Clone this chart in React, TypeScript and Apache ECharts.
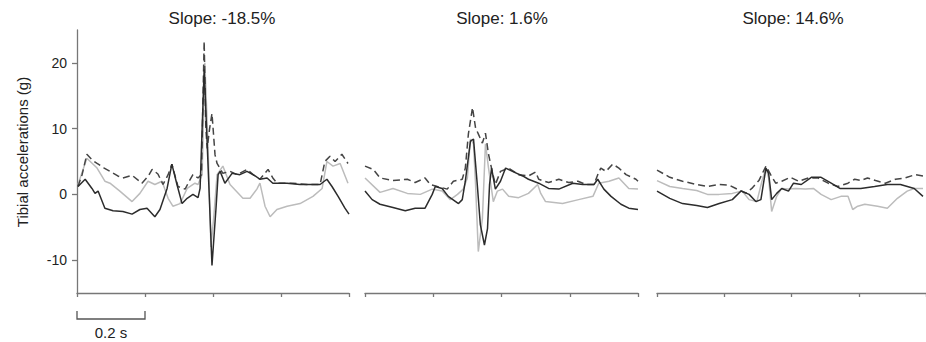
import React, { useEffect, useRef } from "react";
import * as echarts from "echarts";

// time in ms, acceleration in g
const PANEL_TITLES = ["Slope: -18.5%", "Slope: 1.6%", "Slope: 14.6%"];
const Y_TICKS = [-10, 0, 10, 20];
const SCALE_BAR_MS = 200;
const SCALE_BAR_LABEL = "0.2 s";
const Y_NAME = "Tibial accelerations (g)";

const P1_GRAY: [number, number][] = [
  [3, 1.5], [29, 5.5], [59, 4.0], [82, 2.0], [97, 1.7], [126, 0.5], [162, -1.1], [185, 0.15], [209, 2.0],
  [229, 1.5], [250, 2.0], [268, -0.6], [282, -1.8], [303, -1.4], [324, 0.9], [347, 1.7], [356, 1.5],
  [368, 3], [376, 20], [385, 8], [394, -8], [403, -3], [412, 3], [429, 4.3], [450, 1.5], [488, -0.6],
  [509, -0.6], [529, 0.8], [538, 1.7], [553, -1.8], [568, -3.4], [588, -2.3], [618, -1.8], [656, -1.4],
  [694, -0.3], [721, 0.9], [735, 5.0], [753, 4.3], [774, 4.7], [797, 1.7],
];
const P1_DASH: [number, number][] = [
  [3, 1.2], [15, 3], [29, 6.1], [45, 5.2], [59, 4.7], [80, 4.0], [97, 3.5], [120, 2.8], [135, 2.5],
  [162, 2.9], [191, 1.7], [210, 2.8], [221, 3.8], [238, 3.1], [253, 1.5], [268, 3], [279, 4.6],
  [297, 1.2], [318, 0.8], [330, 2.0], [341, 3.0], [356, 2.5], [366, 3], [374, 23.3], [379, 10],
  [383, 7], [390, 10], [397, 12.3], [406, 6], [412, 4.7], [429, 3.2], [450, 3.5], [471, 3.0],
  [500, 3.8], [518, 3.0], [538, 2.3], [562, 3.8], [576, 2.5], [588, 1.7], [635, 1.7], [676, 1.5],
  [715, 1.5], [729, 5.0], [744, 5.8], [759, 5.0], [779, 6.1], [797, 4.7],
];
const P1_SOLID: [number, number][] = [
  [3, 1.2], [24, 2.3], [44, 0.9], [53, 0.15], [62, 0.5], [82, -2.1], [106, -2.5], [135, -2.6],
  [162, -3.0], [185, -2.3], [206, -2.1], [229, -3.4], [244, -2.3], [265, 0.9], [279, 4.6], [294, 1.5],
  [309, -1.4], [324, -0.6], [341, 0], [356, -0.5], [362, 0.9], [374, 19], [385, 5], [397, -10.8],
  [409, -2], [415, 3], [421, 3.5], [435, 1.7], [456, 3.2], [479, 3.0], [500, 3.5], [524, 2.8],
  [538, 2.3], [559, 2.5], [576, 1.7], [618, 1.7], [656, 1.5], [715, 1.5], [735, 2.3], [750, 1.2],
  [768, -0.3], [788, -2.1], [800, -3.0],
];

const P2_GRAY: [number, number][] = [
  [0, 2.5], [44, 0.3], [82, 0.9], [124, 0.15], [162, 0], [197, 0.8], [226, 0.5], [250, -0.8], [271, 0],
  [288, 0.8], [300, 2.5], [309, 8.4], [318, 7.7], [324, 1.5], [332, -8.7], [344, -3.7], [353, 7.7],
  [362, 4.0], [376, -1.1], [388, 0.5], [403, 0.8], [421, -0.3], [450, -0.5], [479, 0.15], [506, 1.5],
  [515, 0.15], [529, -1.1], [579, -1.4], [626, -0.8], [668, -0.3], [685, 1.7], [715, 2.0], [744, 2.5],
  [773, 0.9], [800, 0.8],
];
const P2_DASH: [number, number][] = [
  [0, 4.3], [24, 3.8], [44, 2.5], [82, 2.1], [124, 2.3], [147, 1.8], [176, 2.5], [191, 1.5], [212, 1.2],
  [241, 0.8], [259, 2.0], [285, 2.3], [294, 4.0], [303, 9.2], [315, 13.2], [324, 10.1], [332, 9.2],
  [344, 7.8], [353, 9.3], [362, 6.1], [374, 3.2], [382, 1.5], [397, 3.5], [421, 4.0], [450, 3.0],
  [479, 2.8], [500, 3.4], [509, 2.3], [538, 1.8], [568, 2.3], [597, 1.8], [624, 2.0], [647, 1.5],
  [671, 1.5], [682, 3.0], [691, 4.0], [706, 3.5], [726, 4.6], [744, 4.0], [765, 3.0], [794, 2.3],
  [800, 2.0],
];
const P2_SOLID: [number, number][] = [
  [0, 0.5], [21, -0.8], [44, -1.5], [82, -2.0], [118, -2.5], [147, -2.1], [176, -2.1], [197, 0],
  [206, 1.2], [226, 0.9], [244, -0.3], [274, -1.4], [285, -0.8], [294, 2.0], [309, 8.1], [318, 8.4],
  [329, 1.5], [338, -4.6], [350, -7.7], [359, -5.2], [365, 1.5], [371, 4.0], [376, 2.5], [382, 0.8],
  [397, 2.0], [412, 4.0], [432, 3.5], [462, 2.8], [479, 2.3], [509, 1.7], [538, 0.9], [568, 0.8],
  [609, 1.7], [638, 1.5], [671, 1.5], [682, 2.3], [700, 0.8], [721, -0.3], [750, -1.5], [773, -2.1],
  [800, -2.3],
];

const P3_GRAY: [number, number][] = [
  [0, 2.1], [38, 1.2], [76, 0.9], [118, 0.6], [150, 0], [185, 0], [224, 0.15], [253, 0.5], [274, -0.8],
  [297, -1.1], [312, 2.0], [324, 4.0], [332, 2.5], [341, -2.6], [356, -0.3], [371, 0.9], [391, 0.8],
  [412, 0.9], [441, 0.8], [465, 0.9], [488, 0], [518, -0.8], [547, -0.3], [568, -0.3], [582, -2.3],
  [597, -1.8], [618, -1.5], [656, -1.8], [685, -2.1], [715, -0.6], [744, 0.5], [765, 0.9], [791, 0.9],
];
const P3_DASH: [number, number][] = [
  [0, 3.7], [38, 2.6], [76, 2.0], [118, 1.5], [150, 1.2], [185, 1.5], [215, 1.4], [238, 0.8], [265, 0.2],
  [282, 0.9], [303, 2.1], [324, 4.3], [338, 3.0], [353, 1.7], [371, 2.0], [397, 2.6], [421, 2.0],
  [450, 2.5], [479, 2.5], [509, 1.7], [538, 1.2], [568, 1.7], [588, 2.3], [606, 2.1], [626, 2.5],
  [650, 2.1], [679, 1.7], [709, 2.3], [738, 2.5], [768, 3.0], [791, 2.8],
];
const P3_SOLID: [number, number][] = [
  [0, 0.5], [38, -0.6], [76, -1.4], [118, -1.7], [150, -2.0], [185, -1.4], [224, -0.8], [250, 0.5],
  [274, 0], [294, -1.1], [309, -0.8], [324, 4.0], [332, 3.2], [341, -0.8], [356, 0.15], [371, 0.9],
  [391, 0.5], [406, 1.7], [429, 1.5], [459, 2.6], [488, 2.6], [518, 1.7], [544, 0.9], [568, 0.9],
  [606, 0.9], [647, 1.2], [685, 1.5], [724, 1.5], [765, 0.9], [791, -0.3],
];

const PANELS = [
  { gray: P1_GRAY, dash: P1_DASH, solid: P1_SOLID },
  { gray: P2_GRAY, dash: P2_DASH, solid: P2_SOLID },
  { gray: P3_GRAY, dash: P3_DASH, solid: P3_SOLID },
];

const FONT = "'Liberation Sans', Arial, sans-serif";
const AXIS_COLOR = "#777";
const TEXT_COLOR = "#222";

export default function App() {
  const ref = useRef<HTMLDivElement>(null);
  useEffect(() => {
    if (!ref.current) return;
    const chart = echarts.init(ref.current, null, { renderer: "svg" });
    const grids = [
      { left: 77, top: 30, width: 272, height: 263 },
      { left: 365, top: 30, width: 273, height: 263 },
      { left: 657, top: 30, width: 272, height: 263 },
    ];
    const xAxes = grids.map((_, i) => ({
      type: "value",
      gridIndex: i,
      min: 0,
      max: 800,
      interval: 200,
      axisLine: { show: true, onZero: false, lineStyle: { color: AXIS_COLOR, width: 1.3 } },
      axisTick: { show: true, length: 4, lineStyle: { color: AXIS_COLOR, width: 1.3 } },
      axisLabel: { show: false },
      splitLine: { show: false },
    }));
    const yAxes = grids.map((_, i) => ({
      type: "value",
      gridIndex: i,
      min: -15,
      max: 25,
      axisLine: { show: i === 0, onZero: false, lineStyle: { color: AXIS_COLOR, width: 1.3 } },
      axisTick: {
        show: i === 0,
        length: 5,
        customValues: Y_TICKS,
        lineStyle: { color: AXIS_COLOR, width: 1.3 },
      },
      axisLabel: {
        show: i === 0,
        customValues: Y_TICKS,
        fontSize: 14,
        color: TEXT_COLOR,
        fontFamily: FONT,
        margin: 10,
      },
      splitLine: { show: false },
    }));
    const series: any[] = [];
    PANELS.forEach((p, i) => {
      const base = { type: "line", xAxisIndex: i, yAxisIndex: i, symbol: "none", smooth: false, silent: true };
      series.push({ ...base, data: p.gray, lineStyle: { color: "#bcbcbc", width: 1.5 } });
      series.push({ ...base, data: p.dash, lineStyle: { color: "#454545", width: 1.5, type: [7, 4] } });
      series.push({ ...base, data: p.solid, lineStyle: { color: "#2c2c2c", width: 1.5 } });
    });
    chart.setOption({
      animation: false,
      backgroundColor: "#fff",
      grid: grids,
      xAxis: xAxes,
      yAxis: yAxes,
      series,
    });
    const titleX = [222, 502, 793];
    const p0 = chart.convertToPixel({ xAxisIndex: 0, yAxisIndex: 0 }, [0, -15]) as number[];
    const p1 = chart.convertToPixel({ xAxisIndex: 0, yAxisIndex: 0 }, [SCALE_BAR_MS, -15]) as number[];
    const graphic: any[] = PANEL_TITLES.map((t, i) => ({
      type: "text",
      x: titleX[i],
      y: 18,
      style: { text: t, fontSize: 17, fontFamily: FONT, fill: TEXT_COLOR, align: "center", verticalAlign: "middle" },
    }));
    graphic.push({
      type: "text",
      x: 22,
      y: 152,
      rotation: Math.PI / 2,
      style: { text: Y_NAME, fontSize: 15, fontFamily: FONT, fill: TEXT_COLOR, align: "center", verticalAlign: "middle" },
    });
    graphic.push({
      type: "polyline",
      shape: {
        points: [
          [p0[0], p0[1] + 18],
          [p0[0], p0[1] + 26],
          [p1[0], p0[1] + 26],
          [p1[0], p0[1] + 18],
        ],
      },
      style: { stroke: "#555", lineWidth: 1.3, fill: null },
    });
    graphic.push({
      type: "text",
      x: (p0[0] + p1[0]) / 2,
      y: p0[1] + 39,
      style: { text: SCALE_BAR_LABEL, fontSize: 15, fontFamily: FONT, fill: TEXT_COLOR, align: "center", verticalAlign: "middle" },
    });
    chart.setOption({ graphic });
    return () => chart.dispose();
  }, []);
  return (
    <div
      ref={ref}
      style={{ position: "absolute", left: 0, top: 0, width: 926, height: 342, background: "#fff" }}
    />
  );
}
